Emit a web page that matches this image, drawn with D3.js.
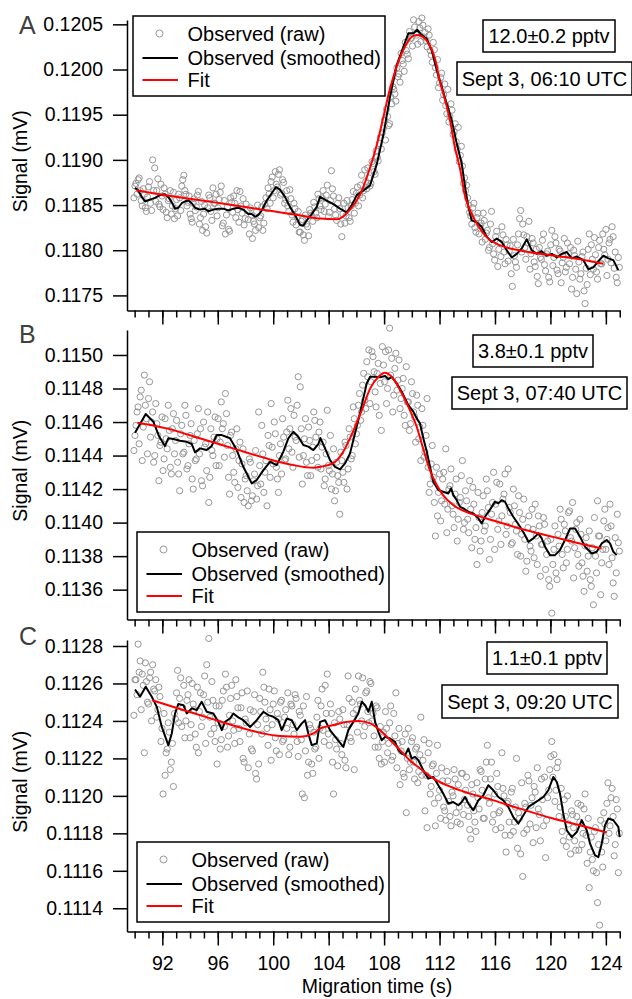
<!DOCTYPE html>
<html>
<head>
<meta charset="utf-8">
<script src="https://cdn.jsdelivr.net/npm/d3@7"></script>
<style>
  body { margin: 0; background: #fff; }
  svg { display: block; }
  text { font-family: "Liberation Sans", Arial, Helvetica, sans-serif; }
</style>
</head>
<body>
<svg id="chart" width="632" height="999"></svg>
<script>
// ---- Sampling of the raw detector signal (s) ----
// Two interleaved sample sets: t = timeStart + i*timeStep and t + timeStep/2
const timeStart = 89.95;
const timeStep = 0.15;
const xDomain = [89.45, 125.02];
const xMinorTicks = d3.range(90, 126, 1);
const xMajorTicks = [92, 96, 100, 104, 108, 112, 116, 120, 124];

// ---- Panel A: Sept 3, 06:10 UTC ----
const rawA = [
  0.11858,0.11874,0.11878,0.11866,0.11849,0.11862,0.11843,0.11870,0.11852,0.11900,0.11891,0.11866,0.11851,0.11873,0.11845,0.11862,0.11836,0.11857,0.11840,0.11864,
  0.11846,0.11838,0.11858,0.11871,0.11883,0.11862,0.11853,0.11840,0.11831,0.11857,0.11848,0.11865,0.11836,0.11822,0.11850,0.11819,0.11861,0.11843,0.11869,0.11852,
  0.11838,0.11856,0.11871,0.11830,0.11818,0.11848,0.11821,0.11853,0.11860,0.11836,0.11845,0.11865,0.11841,0.11828,0.11851,0.11834,0.11847,0.11813,0.11829,0.11843,
  0.11825,0.11838,0.11822,0.11851,0.11846,0.11862,0.11876,0.11858,0.11887,0.11870,0.11889,0.11863,0.11875,0.11856,0.11849,0.11867,0.11839,0.11852,0.11828,0.11843,
  0.11820,0.11834,0.11811,0.11829,0.11816,0.11841,0.11832,0.11848,0.11836,0.11857,0.11845,0.11866,0.11851,0.11872,0.11842,0.11888,0.11860,0.11839,0.11852,0.11846,
  0.11815,0.11852,0.11838,0.11847,0.11832,0.11856,0.11841,0.11863,0.11849,0.11872,0.11858,0.11889,0.11868,0.11880,0.11874,0.11896,0.11884,0.11903,0.11918,0.11912,
  0.11935,0.11922,0.11948,0.11940,0.11962,0.11978,0.11965,0.11992,0.11986,0.12010,0.11998,0.12021,0.12012,0.12034,0.12026,0.12047,0.12038,0.12053,0.12031,0.12049,
  0.12041,0.12025,0.12038,0.12016,0.12030,0.12002,0.12011,0.11985,0.11996,0.11972,0.11960,0.11978,0.11948,0.11955,0.11931,0.11920,0.11936,0.11905,0.11893,0.11880,
  0.11872,0.11850,0.11838,0.11847,0.11825,0.11836,0.11818,0.11830,0.11841,0.11812,0.11822,0.11803,0.11843,0.11796,0.11815,0.11782,0.11808,0.11826,0.11798,0.11812,
  0.11788,0.11805,0.11760,0.11794,0.11781,0.11818,0.11844,0.11829,0.11803,0.11815,0.11832,0.11796,0.11808,0.11782,0.11771,0.11803,0.11790,0.11818,0.11777,0.11799,
  0.11765,0.11822,0.11792,0.11808,0.11774,0.11799,0.11786,0.11813,0.11781,0.11796,0.11803,0.11770,0.11794,0.11752,0.11787,0.11774,0.11798,0.11741,0.11762,0.11818,
  0.11806,0.11779,0.11795,0.11768,0.11811,0.11785,0.11801,0.11823,0.11790,0.11812,0.11826,0.11780,0.11770,0.11792
];
const rawAMid = [
  0.11871,0.11862,0.11880,0.11855,0.11868,0.11847,0.11859,0.11876,0.11844,0.11866,0.11854,0.11879,0.11848,0.11860,0.11869,0.11842,0.11855,0.11866,0.11849,0.11835,
  0.11856,0.11862,0.11844,0.11878,0.11866,0.11849,0.11860,0.11835,0.11852,0.11844,0.11861,0.11829,0.11854,0.11840,0.11826,0.11847,0.11858,0.11833,0.11852,0.11862,
  0.11847,0.11864,0.11827,0.11855,0.11839,0.11823,0.11858,0.11842,0.11852,0.11866,0.11831,0.11849,0.11857,0.11835,0.11844,0.11818,0.11839,0.11832,0.11822,0.11850,
  0.11836,0.11848,0.11830,0.11858,0.11869,0.11852,0.11881,0.11866,0.11873,0.11884,0.11861,0.11878,0.11852,0.11866,0.11843,0.11857,0.11831,0.11846,0.11837,0.11820,
  0.11832,0.11817,0.11839,0.11826,0.11845,0.11838,0.11853,0.11841,0.11862,0.11849,0.11858,0.11843,0.11861,0.11837,0.11855,0.11868,0.11846,0.11833,0.11858,0.11829,
  0.11840,0.11830,0.11855,0.11836,0.11849,0.11865,0.11852,0.11870,0.11861,0.11883,0.11866,0.11876,0.11891,0.11871,0.11898,0.11887,0.11910,0.11899,0.11925,0.11930,
  0.11944,0.11956,0.11938,0.11970,0.11981,0.11973,0.12002,0.11995,0.12018,0.12006,0.12030,0.12017,0.12042,0.12035,0.12055,0.12040,0.12028,0.12046,0.12057,0.12036,
  0.12032,0.12045,0.12021,0.12008,0.12022,0.11994,0.11980,0.11991,0.11966,0.11984,0.11951,0.11942,0.11962,0.11928,0.11940,0.11912,0.11898,0.11915,0.11874,0.11866,
  0.11858,0.11842,0.11829,0.11852,0.11820,0.11841,0.11827,0.11809,0.11833,0.11819,0.11800,0.11829,0.11807,0.11789,0.11821,0.11801,0.11793,0.11817,0.11785,0.11806,
  0.11799,0.11774,0.11812,0.11787,0.11806,0.11835,0.11798,0.11817,0.11790,0.11808,0.11779,0.11813,0.11787,0.11801,0.11763,0.11792,0.11811,0.11784,0.11796,0.11770,
  0.11806,0.11783,0.11815,0.11778,0.11801,0.11764,0.11792,0.11776,0.11808,0.11785,0.11757,0.11800,0.11779,0.11810,0.11768,0.11793,0.11755,0.11780,0.11801,0.11773,
  0.11790,0.11814,0.11776,0.11803,0.11785,0.11818,0.11795,0.11772,0.11808,0.11786,0.11815,0.11798,0.11764,0.11781
];
const smoothTimeA = [
  90.03,90.27,90.51,90.75,91.11,91.47,91.83,92.19,92.43,92.68,92.92,93.15,93.4,93.64,93.88,94.12,94.36,94.72,95.08,95.32,
  95.68,96.04,96.4,96.76,97.12,97.48,97.84,98.2,98.45,98.69,98.93,99.17,99.53,99.89,100.2,100.49,100.85,101.21,101.57,101.94,
  102.17,102.42,102.78,103.14,103.38,103.86,104.34,104.82,105.3,105.67,106.03,106.5,106.99,107.47,107.95,108.43,108.91,109.39,109.75,110.11,
  110.4,110.72,111.08,111.44,111.8,112.16,112.52,112.88,113.24,113.6,113.84,114.08,114.32,114.68,115.04,115.4,115.77,116.13,116.49,116.85,
  117.21,117.57,117.93,118.29,118.65,119.01,119.37,119.73,120.1,120.46,120.82,121.18,121.54,121.9,122.38,122.74,123.1,123.46,123.82,124.18,
  124.54,124.9
];
const smoothA = [
  0.11869,0.11866,0.11859,0.11854,0.11856,0.11858,0.11861,0.11862,0.11859,0.11853,0.11846,0.11847,0.11852,0.11854,0.11855,0.11852,0.11847,0.11845,0.11846,0.11843,
  0.11845,0.11846,0.11846,0.11844,0.11846,0.11847,0.11845,0.11840,0.11840,0.11837,0.11839,0.11844,0.11855,0.11863,0.11870,0.11867,0.11859,0.11848,0.11839,0.11828,
  0.11827,0.11833,0.11840,0.11848,0.11859,0.11855,0.11851,0.11846,0.11842,0.11850,0.11861,0.11866,0.11872,0.11895,0.11928,0.11970,0.12005,0.12025,0.12040,0.12040,
  0.12044,0.12038,0.12034,0.12021,0.11999,0.11981,0.11962,0.11944,0.11918,0.11896,0.11870,0.11848,0.11833,0.11831,0.11826,0.11815,0.11809,0.11813,0.11809,0.11800,
  0.11792,0.11796,0.11802,0.11812,0.11800,0.11796,0.11799,0.11794,0.11796,0.11792,0.11796,0.11798,0.11791,0.11793,0.11789,0.11779,0.11781,0.11788,0.11794,0.11791,
  0.11789,0.11778
];
const fitTimeA = [90.15,92,94,96,98,100,102,103.4,104.6,105.5,106.3,107.0,107.5,107.95,108.4,108.9,109.5,110.0,110.35,110.7,
  111.2,111.7,112.0,112.4,112.8,113.1,113.5,113.8,114.2,114.7,115.4,116.4,117.8,120.2,122.6,123.8];
const fitA = [0.118663,0.118613,0.118570,0.118524,0.118478,0.118431,0.118385,0.118350,0.118342,0.118441,0.118626,0.118921,0.119181,0.119476,0.119772,0.120030,0.120252,0.120363,0.120381,0.120370,
  0.120289,0.120104,0.119883,0.119661,0.119402,0.119143,0.118885,0.118626,0.118441,0.118294,0.118145,0.118053,0.117998,0.117942,0.117887,0.117850];
const yTicksA = [0.1175,0.1180,0.1185,0.1190,0.1195,0.1200,0.1205];
const yDomainA = [0.117333, 0.120548];

// ---- Panel B: Sept 3, 07:40 UTC ----
const rawB = [
  0.11443,0.11458,0.11469,0.11475,0.11437,0.11488,0.11462,0.11474,0.11451,0.11466,0.11440,0.11459,0.11425,0.11448,0.11431,0.11462,0.11444,0.11455,0.11429,0.11465,
  0.11449,0.11436,0.11419,0.11458,0.11442,0.11464,0.11434,0.11452,0.11426,0.11449,0.11438,0.11468,0.11456,0.11422,0.11445,0.11431,0.11412,0.11456,0.11440,0.11463,
  0.11450,0.11434,0.11472,0.11459,0.11477,0.11446,0.11417,0.11454,0.11430,0.11444,0.11421,0.11448,0.11435,0.11412,0.11428,0.11410,0.11436,0.11416,0.11429,0.11414,
  0.11466,0.11423,0.11441,0.11430,0.11410,0.11446,0.11471,0.11435,0.11453,0.11426,0.11440,0.11429,0.11451,0.11438,0.11473,0.11456,0.11442,0.11464,0.11449,0.11487,
  0.11481,0.11423,0.11450,0.11436,0.11457,0.11428,0.11445,0.11461,0.11439,0.11454,0.11432,0.11448,0.11426,0.11467,0.11431,0.11420,0.11444,0.11419,0.11428,0.11405,
  0.11437,0.11424,0.11446,0.11432,0.11451,0.11440,0.11462,0.11453,0.11470,0.11461,0.11482,0.11473,0.11496,0.11503,0.11484,0.11499,0.11478,0.11489,0.11464,0.11455,
  0.11494,0.11502,0.11480,0.11516,0.11498,0.11476,0.11501,0.11485,0.11468,0.11480,0.11464,0.11493,0.11472,0.11459,0.11477,0.11463,0.11476,0.11450,0.11437,0.11458,
  0.11442,0.11474,0.11418,0.11435,0.11427,0.11392,0.11404,0.11429,0.11413,0.11430,0.11444,0.11408,0.11422,0.11410,0.11397,0.11426,0.11402,0.11415,0.11437,0.11400,
  0.11413,0.11394,0.11408,0.11421,0.11390,0.11375,0.11403,0.11389,0.11416,0.11398,0.11419,0.11378,0.11405,0.11430,0.11411,0.11396,0.11423,0.11404,0.11417,0.11393,
  0.11432,0.11406,0.11388,0.11410,0.11395,0.11416,0.11380,0.11402,0.11390,0.11377,0.11404,0.11383,0.11396,0.11411,0.11375,0.11398,0.11387,0.11403,0.11372,0.11389,
  0.11362,0.11346,0.11384,0.11370,0.11393,0.11408,0.11381,0.11399,0.11376,0.11406,0.11391,0.11412,0.11385,0.11400,0.11374,0.11393,0.11368,0.11386,0.11371,0.11395,
  0.11362,0.11351,0.11380,0.11413,0.11392,0.11376,0.11401,0.11384,0.11397,0.11411,0.11379,0.11356,0.11370,0.11388
];
const rawBMid = [
  0.11452,0.11466,0.11447,0.11479,0.11457,0.11470,0.11441,0.11484,0.11460,0.11436,0.11471,0.11452,0.11446,0.11463,0.11438,0.11450,0.11470,0.11433,0.11456,0.11441,
  0.11461,0.11429,0.11453,0.11441,0.11470,0.11432,0.11447,0.11459,0.11420,0.11437,0.11453,0.11441,0.11425,0.11460,0.11447,0.11466,0.11427,0.11443,0.11451,0.11434,
  0.11462,0.11448,0.11456,0.11439,0.11465,0.11427,0.11452,0.11440,0.11424,0.11456,0.11437,0.11415,0.11444,0.11426,0.11419,0.11438,0.11413,0.11425,0.11443,0.11422,
  0.11434,0.11458,0.11418,0.11437,0.11452,0.11427,0.11445,0.11460,0.11433,0.11418,0.11447,0.11462,0.11437,0.11454,0.11444,0.11468,0.11433,0.11451,0.11470,0.11439,
  0.11456,0.11440,0.11462,0.11428,0.11449,0.11437,0.11466,0.11451,0.11433,0.11460,0.11445,0.11422,0.11441,0.11434,0.11452,0.11429,0.11413,0.11436,0.11424,0.11442,
  0.11430,0.11448,0.11420,0.11456,0.11438,0.11469,0.11447,0.11458,0.11477,0.11466,0.11489,0.11468,0.11487,0.11471,0.11502,0.11490,0.11469,0.11495,0.11483,0.11505,
  0.11484,0.11471,0.11503,0.11488,0.11466,0.11492,0.11479,0.11497,0.11474,0.11486,0.11458,0.11472,0.11455,0.11484,0.11466,0.11448,0.11470,0.11457,0.11468,0.11439,
  0.11452,0.11433,0.11423,0.11446,0.11412,0.11433,0.11418,0.11401,0.11426,0.11411,0.11394,0.11420,0.11432,0.11405,0.11417,0.11389,0.11412,0.11428,0.11396,0.11419,
  0.11402,0.11425,0.11385,0.11411,0.11397,0.11418,0.11383,0.11406,0.11395,0.11426,0.11409,0.11390,0.11412,0.11384,0.11424,0.11401,0.11387,0.11414,0.11429,0.11398,
  0.11409,0.11387,0.11420,0.11399,0.11381,0.11406,0.11393,0.11414,0.11371,0.11397,0.11386,0.11408,0.11379,0.11392,0.11404,0.11368,0.11387,0.11399,0.11381,0.11366,
  0.11390,0.11375,0.11398,0.11366,0.11386,0.11402,0.11373,0.11395,0.11384,0.11407,0.11389,0.11367,0.11396,0.11381,0.11402,0.11376,0.11359,0.11391,0.11380,0.11366,
  0.11385,0.11403,0.11370,0.11392,0.11357,0.11384,0.11408,0.11390,0.11375,0.11398,0.11364,0.11391,0.11405,0.11383
];
const smoothTimeB = [
  90.03,90.8,91.35,91.78,92.19,92.43,92.79,93.28,93.76,94.12,94.36,94.72,95.2,95.56,95.92,96.29,96.88,97.37,97.84,98.45,
  98.81,99.29,99.77,100.25,100.73,101.09,101.45,101.81,102.17,102.53,102.89,103.26,103.4,103.74,104.1,104.46,104.82,105.18,105.54,105.9,
  106.26,106.5,106.75,106.99,107.35,107.71,108.07,108.31,108.55,108.91,109.27,109.51,109.75,110.11,110.35,110.59,110.83,111.08,111.31,111.55,
  111.91,112.27,112.63,112.83,113.0,113.24,113.48,113.72,114.08,114.44,114.8,115.04,115.28,115.52,115.77,116.0,116.24,116.49,116.73,116.96,
  117.32,117.81,118.17,118.41,118.77,119.13,119.37,119.61,119.97,120.33,120.69,121.05,121.42,121.78,122.14,122.5,122.98,123.34,123.7,124.06,
  124.3,124.54,124.78
];
const smoothB = [
  0.114536,0.114648,0.114602,0.114512,0.114457,0.114503,0.114499,0.114488,0.114482,0.114469,0.114419,0.114443,0.114433,0.114457,0.114522,0.114522,0.114503,0.114433,0.114333,0.114234,
  0.114254,0.114313,0.114363,0.114343,0.114423,0.114503,0.114542,0.114512,0.114463,0.114453,0.114433,0.114469,0.114505,0.114443,0.114373,0.114333,0.114318,0.114353,0.114413,0.114532,
  0.114652,0.114741,0.114831,0.114870,0.114870,0.114867,0.114875,0.114855,0.114870,0.114831,0.114781,0.114741,0.114701,0.114662,0.114622,0.114592,0.114503,0.114423,0.114333,0.114244,
  0.114194,0.114184,0.114174,0.114204,0.114164,0.114134,0.114094,0.114085,0.114064,0.114055,0.114025,0.113995,0.114035,0.114064,0.114094,0.114124,0.114115,0.114134,0.114124,0.114085,
  0.114035,0.113975,0.113925,0.113885,0.113906,0.113936,0.113906,0.113856,0.113806,0.113806,0.113836,0.113896,0.113965,0.113965,0.113915,0.113856,0.113816,0.113826,0.113876,0.113896,
  0.113876,0.113826,0.113806
];
const fitTimeB = [90.2,92.3,94.7,97.1,99.5,101.45,102.9,103.4,104.3,105.05,105.8,106.4,107.0,107.6,108.05,108.55,109.15,109.75,110.35,110.85,
  111.3,111.8,112.25,113.0,114.2,115.4,117.8,120.2,122.6,123.7];
const fitB = [0.114596,0.114562,0.114503,0.114443,0.114383,0.114343,0.114327,0.114333,0.114353,0.114423,0.114552,0.114672,0.114801,0.114870,0.114894,0.114870,0.114791,0.114691,0.114572,0.114433,
  0.114313,0.114224,0.114164,0.114104,0.114055,0.114025,0.113965,0.113915,0.113866,0.113846];
const yTicksB = [0.1136,0.1138,0.1140,0.1142,0.1144,0.1146,0.1148,0.1150];
const yDomainB = [0.113422, 0.115149];

// ---- Panel C: Sept 3, 09:20 UTC ----
const rawC = [
  0.11243,0.11262,0.11281,0.11272,0.11265,0.11223,0.11261,0.11249,0.11266,0.11270,0.11256,0.11242,0.11258,0.11229,0.11201,0.11211,0.11225,0.11234,0.11218,0.11205,
  0.11241,0.11267,0.11252,0.11237,0.11259,0.11240,0.11254,0.11231,0.11260,0.11246,0.11226,0.11223,0.11255,0.11242,0.11264,0.11270,0.11284,0.11233,0.11251,0.11229,
  0.11217,0.11248,0.11230,0.11256,0.11265,0.11226,0.11243,0.11259,0.11235,0.11262,0.11247,0.11229,0.11255,0.11218,0.11239,0.11215,0.11246,0.11224,0.11254,0.11209,
  0.11217,0.11245,0.11266,0.11250,0.11236,0.11257,0.11219,0.11249,0.11231,0.11244,0.11222,0.11251,0.11230,0.11246,0.11255,0.11226,0.11248,0.11233,0.11252,0.11221,
  0.11243,0.11201,0.11199,0.11253,0.11218,0.11236,0.11212,0.11225,0.11242,0.11220,0.11248,0.11235,0.11259,0.11265,0.11227,0.11244,0.11201,0.11230,0.11216,0.11241,
  0.11222,0.11238,0.11215,0.11264,0.11231,0.11250,0.11214,0.11246,0.11264,0.11249,0.11263,0.11237,0.11256,0.11239,0.11260,0.11244,0.11226,0.11247,0.11220,0.11217,
  0.11234,0.11245,0.11223,0.11239,0.11219,0.11244,0.11255,0.11228,0.11206,0.11229,0.11210,0.11191,0.11236,0.11218,0.11231,0.11209,0.11226,0.11213,0.11242,0.11219,
  0.11192,0.11183,0.11228,0.11205,0.11217,0.11184,0.11227,0.11203,0.11215,0.11194,0.11187,0.11208,0.11189,0.11202,0.11214,0.11191,0.11206,0.11185,0.11212,0.11198,
  0.11210,0.11189,0.11177,0.11201,0.11186,0.11207,0.11193,0.11213,0.11188,0.11209,0.11227,0.11196,0.11218,0.11190,0.11182,0.11205,0.11192,0.11223,0.11200,0.11170,
  0.11197,0.11179,0.11204,0.11186,0.11220,0.11191,0.11169,0.11157,0.11196,0.11182,0.11208,0.11195,0.11175,0.11202,0.11215,0.11190,0.11209,0.11184,0.11167,0.11199,
  0.11214,0.11229,0.11222,0.11203,0.11218,0.11194,0.11181,0.11198,0.11173,0.11185,0.11169,0.11190,0.11176,0.11189,0.11171,0.11195,0.11180,0.11201,0.11164,0.11151,
  0.11178,0.11160,0.11183,0.11143,0.11131,0.11170,0.11191,0.11176,0.11207,0.11184,0.11204,0.11168,0.11198,0.11159
];
const rawCMid = [
  0.11262,0.11254,0.11266,0.11246,0.11259,0.11271,0.11250,0.11263,0.11240,0.11257,0.11262,0.11246,0.11253,0.11236,0.11244,0.11223,0.11239,0.11214,0.11228,0.11244,
  0.11255,0.11239,0.11263,0.11247,0.11231,0.11251,0.11262,0.11238,0.11249,0.11233,0.11258,0.11245,0.11237,0.11254,0.11228,0.11250,0.11242,0.11261,0.11236,0.11248,
  0.11239,0.11225,0.11251,0.11237,0.11258,0.11232,0.11252,0.11240,0.11228,0.11253,0.11236,0.11247,0.11220,0.11241,0.11256,0.11233,0.11225,0.11245,0.11212,0.11238,
  0.11252,0.11233,0.11258,0.11241,0.11227,0.11246,0.11238,0.11256,0.11224,0.11241,0.11250,0.11229,0.11242,0.11236,0.11222,0.11249,0.11238,0.11254,0.11229,0.11245,
  0.11230,0.11248,0.11224,0.11211,0.11238,0.11217,0.11234,0.11226,0.11251,0.11236,0.11257,0.11229,0.11244,0.11233,0.11249,0.11218,0.11239,0.11225,0.11245,0.11228,
  0.11246,0.11219,0.11238,0.11252,0.11229,0.11244,0.11257,0.11234,0.11251,0.11240,0.11232,0.11255,0.11245,0.11261,0.11240,0.11232,0.11248,0.11226,0.11237,0.11229,
  0.11218,0.11236,0.11228,0.11248,0.11221,0.11232,0.11215,0.11236,0.11224,0.11212,0.11233,0.11220,0.11214,0.11229,0.11218,0.11225,0.11207,0.11222,0.11211,0.11230,
  0.11211,0.11223,0.11201,0.11216,0.11196,0.11212,0.11199,0.11188,0.11208,0.11192,0.11213,0.11197,0.11184,0.11200,0.11209,0.11186,0.11194,0.11212,0.11190,0.11203,
  0.11195,0.11182,0.11206,0.11192,0.11181,0.11199,0.11214,0.11203,0.11188,0.11218,0.11199,0.11209,0.11186,0.11201,0.11212,0.11191,0.11183,0.11204,0.11179,0.11196,
  0.11186,0.11202,0.11181,0.11194,0.11172,0.11188,0.11207,0.11180,0.11194,0.11211,0.11185,0.11199,0.11205,0.11183,0.11193,0.11176,0.11198,0.11210,0.11187,0.11203,
  0.11221,0.11210,0.11197,0.11215,0.11189,0.11204,0.11176,0.11189,0.11200,0.11178,0.11192,0.11183,0.11171,0.11196,0.11186,0.11174,0.11193,0.11179,0.11188,0.11170,
  0.11166,0.11181,0.11159,0.11174,0.11187,0.11162,0.11185,0.11196,0.11180,0.11199,0.11189,0.11174,0.11193,0.11180
];
const smoothTimeC = [
  90.03,90.39,90.8,91.24,91.6,91.96,92.43,92.68,92.92,93.15,93.52,93.76,94.12,94.48,94.84,95.2,95.68,96.04,96.29,96.52,
  96.88,97.12,97.48,97.84,98.33,98.81,99.29,99.65,100.01,100.37,100.61,100.98,101.34,101.7,102.06,102.3,102.53,102.78,103.14,103.38,
  103.74,104.1,104.58,105.06,105.42,105.78,106.14,106.39,106.63,106.87,107.11,107.35,107.58,107.83,108.07,108.43,108.79,109.03,109.27,109.51,
  109.75,109.99,110.23,110.47,110.83,111.19,111.55,111.91,112.27,112.63,112.99,113.36,113.6,113.84,114.08,114.44,114.8,115.16,115.52,115.88,
  116.24,116.6,116.96,117.32,117.69,118.05,118.41,118.77,119.13,119.49,119.85,120.21,120.46,120.69,120.93,121.18,121.54,121.9,122.26,122.62,
  122.86,123.22,123.46,123.7,123.94,124.18,124.54,124.9,125.0
];
const smoothC = [
  0.112568,0.112529,0.112582,0.112529,0.112475,0.112368,0.112271,0.112333,0.112440,0.112490,0.112484,0.112440,0.112467,0.112458,0.112502,0.112449,0.112440,0.112395,0.112351,0.112395,
  0.112413,0.112440,0.112419,0.112404,0.112368,0.112404,0.112449,0.112431,0.112422,0.112404,0.112351,0.112413,0.112404,0.112351,0.112387,0.112404,0.112333,0.112271,0.112280,0.112395,
  0.112404,0.112351,0.112306,0.112261,0.112351,0.112395,0.112440,0.112502,0.112484,0.112449,0.112502,0.112395,0.112342,0.112297,0.112315,0.112306,0.112288,0.112244,0.112226,0.112217,
  0.112253,0.112200,0.112208,0.112190,0.112137,0.112092,0.112101,0.112057,0.112012,0.111959,0.111967,0.111950,0.111967,0.111994,0.111959,0.111923,0.111976,0.112003,0.112057,0.112030,
  0.111994,0.111976,0.111941,0.111887,0.111852,0.111896,0.111941,0.111959,0.111976,0.111994,0.112030,0.112101,0.112074,0.112012,0.111905,0.111816,0.111780,0.111807,0.111870,0.111816,
  0.111745,0.111682,0.111673,0.111745,0.111843,0.111879,0.111870,0.111834,0.111780
];
const fitTimeC = [91.25,93.5,95.9,98.3,100.5,101.95,102.9,103.4,104.35,105.3,106.15,107.0,107.7,108.45,109.15,109.85,110.6,111.55,112.5,114.2,
  115.9,117.8,120.2,122.6,124.05];
const fitC = [0.112511,0.112458,0.112404,0.112351,0.112319,0.112315,0.112333,0.112360,0.112378,0.112395,0.112400,0.112387,0.112351,0.112297,0.112244,0.112190,0.112146,0.112093,0.112057,0.112012,
  0.111976,0.111932,0.111879,0.111834,0.111804];
const yTicksC = [0.1114,0.1116,0.1118,0.1120,0.1122,0.1124,0.1126,0.1128];
const yDomainC = [0.111276, 0.112832];

// ---- Text ----
const panelLetters = ["A", "B", "C"];
const amountLabels = ["12.0\u00b10.2 pptv", "3.8\u00b10.1 pptv", "1.1\u00b10.1 pptv"];
const timeLabels = ["Sept 3, 06:10 UTC", "Sept 3, 07:40 UTC", "Sept 3, 09:20 UTC"];
const legendLabels = ["Observed (raw)", "Observed (smoothed)", "Fit"];
const yTitle = "Signal (mV)";
const xTitle = "Migration time (s)";

// ---- Layout of the three stacked panels ----
const panels = [
  { raw: rawA, rawMid: rawAMid, smT: smoothTimeA, smV: smoothA, fitT: fitTimeA, fitV: fitA, yDomain: yDomainA, yTicks: yTicksA,
    top: 20, bottom: 310.5, letterY: 33.5, legend: [133, 16],
    boxes: [[483, 20, 132, 32], [457, 62, 175, 33]] },
  { raw: rawB, rawMid: rawBMid, smT: smoothTimeB, smV: smoothB, fitT: fitTimeB, fitV: fitB, yDomain: yDomainB, yTicks: yTicksB,
    top: 330, bottom: 619.5, letterY: 343, legend: [137, 532],
    boxes: [[473, 335, 120, 32], [452, 377, 175, 32]] },
  { raw: rawC, rawMid: rawCMid, smT: smoothTimeC, smV: smoothC, fitT: fitTimeC, fitV: fitC, yDomain: yDomainC, yTicks: yTicksC,
    top: 640, bottom: 931.5, letterY: 645, legend: [137, 842],
    boxes: [[487, 642, 120, 32], [442, 685, 176, 33]] }
];

const svg = d3.select("#chart");
const plotLeft = 127, plotRight = 620;
const x = d3.scaleLinear().domain(xDomain).range([plotLeft, plotRight]);
const fmt = d3.format(".4f");
const rawStroke = "#979797";
const rawRadius = 3.1;

panels.forEach((p, k) => {
  const y = d3.scaleLinear().domain(p.yDomain).range([p.bottom, p.top]);
  const g = svg.append("g");

  // raw observations (two interleaved sample sets)
  const rawPoints = p.raw.flatMap((v, i) => [
    [timeStart + i * timeStep, v],
    [timeStart + timeStep / 2 + i * timeStep, p.rawMid[i]]
  ]);
  g.append("g").selectAll("circle").data(rawPoints).join("circle")
    .attr("cx", d => x(d[0]))
    .attr("cy", d => y(d[1]))
    .attr("r", rawRadius)
    .attr("fill", "none")
    .attr("stroke", rawStroke)
    .attr("stroke-width", 1);

  // smoothed trace
  g.append("path")
    .datum(d3.zip(p.smT, p.smV))
    .attr("d", d3.line().x(d => x(d[0])).y(d => y(d[1])))
    .attr("fill", "none").attr("stroke", "#000").attr("stroke-width", 2)
    .attr("stroke-linejoin", "round");

  // fitted peak + baseline
  g.append("path")
    .datum(d3.zip(p.fitT, p.fitV))
    .attr("d", d3.line().curve(d3.curveMonotoneX).x(d => x(d[0])).y(d => y(d[1])))
    .attr("fill", "none").attr("stroke", "#ff0000").attr("stroke-width", 2);

  // left axis
  const ya = g.append("g").attr("transform", `translate(${plotLeft},0)`)
    .call(d3.axisLeft(y).tickValues(p.yTicks).tickSize(14).tickSizeOuter(0).tickPadding(10).tickFormat(fmt));
  ya.selectAll("text").attr("font-size", 19.5).attr("fill", "#000");

  // bottom axis: minor ticks every second, major ticks every 4 s
  const bottomG = g.append("g").attr("transform", `translate(0,${p.bottom})`);
  bottomG.append("g")
    .call(d3.axisBottom(x).tickValues(xMinorTicks).tickSize(7).tickSizeOuter(0).tickFormat(""));
  const major = bottomG.append("g")
    .call(d3.axisBottom(x).tickValues(xMajorTicks).tickSize(14).tickSizeOuter(0).tickPadding(11)
      .tickFormat(k === panels.length - 1 ? d3.format("d") : ""));
  major.select(".domain").remove();
  major.selectAll("text").attr("font-size", 19.5).attr("fill", "#000");

  g.selectAll(".domain, .tick line").attr("stroke", "#000").attr("stroke-width", 1.5);
  g.selectAll("g[font-family]").attr("font-family", null);

  // y title
  g.append("text")
    .attr("transform", `translate(27,${(p.top + p.bottom) / 2 - 4}) rotate(-90)`)
    .attr("text-anchor", "middle").attr("font-size", 19.5).text(yTitle);

  // panel letter
  g.append("text").attr("x", 19).attr("y", p.letterY)
    .attr("font-size", 25).attr("fill", "#404040").text(panelLetters[k]);

  // annotation boxes
  const labels = [amountLabels[k], timeLabels[k]];
  p.boxes.forEach((b, j) => {
    g.append("rect").attr("x", b[0]).attr("y", b[1]).attr("width", b[2]).attr("height", b[3])
      .attr("fill", "#fff").attr("stroke", "#000").attr("stroke-width", 1.5);
    g.append("text").attr("x", b[0] + b[2] / 2).attr("y", b[1] + b[3] / 2 + 7)
      .attr("text-anchor", "middle").attr("font-size", 20).text(labels[j]);
  });

  // legend
  const [lx, ly] = p.legend;
  const lg = g.append("g").attr("transform", `translate(${lx},${ly})`);
  lg.append("rect").attr("width", 252).attr("height", 80)
    .attr("fill", "#fff").attr("stroke", "#000").attr("stroke-width", 1.5);
  const rows = [17.5, 42, 64];
  lg.append("circle").attr("cx", 26.5).attr("cy", rows[0]).attr("r", rawRadius + 0.4)
    .attr("fill", "none").attr("stroke", rawStroke).attr("stroke-width", 1);
  lg.append("line").attr("x1", 9.5).attr("x2", 45).attr("y1", rows[1]).attr("y2", rows[1])
    .attr("stroke", "#000").attr("stroke-width", 2);
  lg.append("line").attr("x1", 9.5).attr("x2", 45).attr("y1", rows[2]).attr("y2", rows[2])
    .attr("stroke", "#ff0000").attr("stroke-width", 2);
  legendLabels.forEach((t, j) => {
    lg.append("text").attr("x", 54.5).attr("y", rows[j] + 7).attr("font-size", 20).text(t);
  });
});

// x title
svg.append("text").attr("x", 377).attr("y", 993)
  .attr("text-anchor", "middle").attr("font-size", 19.5).text(xTitle);
</script>
</body>
</html>
